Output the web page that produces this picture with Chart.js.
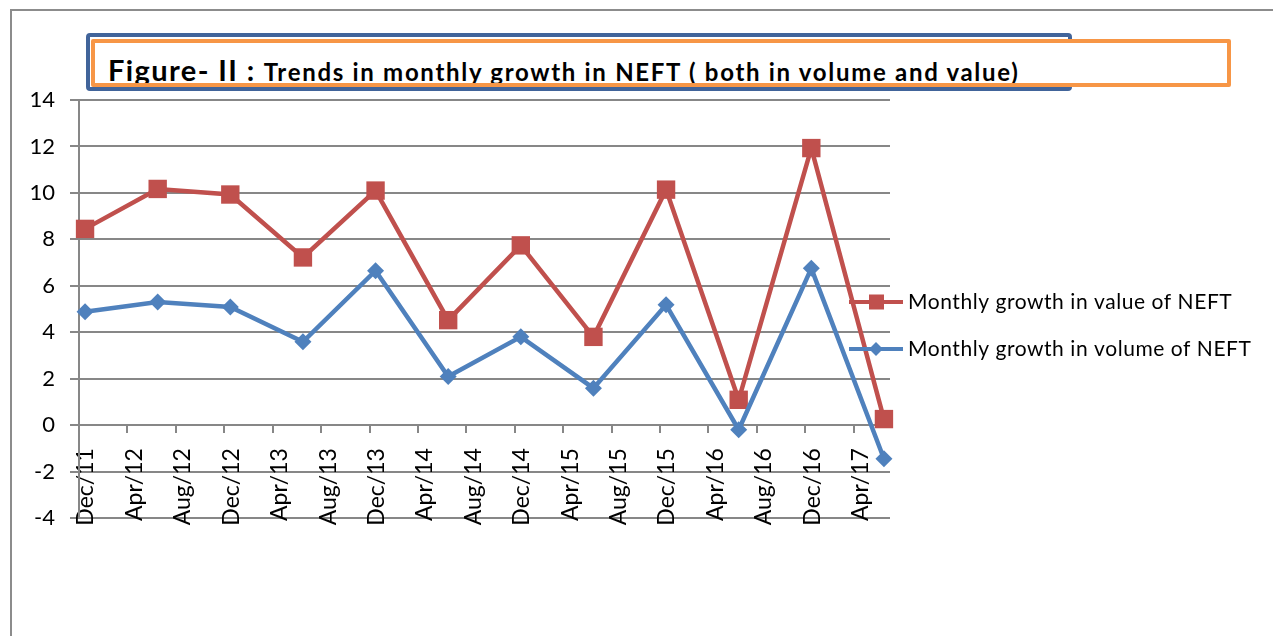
<!DOCTYPE html>
<html>
<head>
<meta charset="utf-8">
<script src="https://cdn.jsdelivr.net/npm/chart.js@4.4.1/dist/chart.umd.min.js"></script>
<style>
  body { margin: 0; background: #fff; }
  #wrap { position: relative; width: 1273px; height: 636px; overflow: hidden; font-family: Lato, sans-serif; }
  #frame { position: absolute; left: 10px; top: 9px; width: 1300px; height: 700px;
           border-top: 2.5px solid #8c8c8c; border-left: 2.5px solid #8c8c8c; }
  canvas { position: absolute; left: 0; top: 0; }
  #boxBlue { position: absolute; left: 86px; top: 33px; width: 978px; height: 50px;
             border: 4px solid #41649A; border-radius: 4px; }
  #boxOrange { position: absolute; left: 91px; top: 39px; width: 1132px; height: 40px;
               border: 4px solid #F79646; border-radius: 2px; background: #fff; overflow: hidden; }
  #title { position: absolute; left: 13px; top: 13px; white-space: nowrap; font-weight: bold;
           color: #000; line-height: 28px; }
  #title .big { font-size: 29px; letter-spacing: 1.4px; }
  #title .small { font-size: 24px; letter-spacing: 1.7px; margin-left: 8px; }
</style>
</head>
<body>
<div id="wrap">
  <div id="frame"></div>
  <canvas id="chart" width="1273" height="636"></canvas>
  <div id="boxBlue"></div>
  <div id="boxOrange">
    <div id="title"><span class="big">Figure- II :</span><span class="small">Trends in monthly growth in NEFT ( both in volume and value)</span></div>
  </div>
</div>
<script>
// observation periods (half-yearly) and the two growth series, in per cent
const periods = ['Dec/11', 'Jun/12', 'Dec/12', 'Jun/13', 'Dec/13', 'Jun/14',
                 'Dec/14', 'Jun/15', 'Dec/15', 'Jun/16', 'Dec/16', 'Jun/17'];
const valueGrowth = [8.45, 10.17, 9.93, 7.22, 10.1, 4.52, 7.74, 3.8, 10.14, 1.09, 11.93, 0.26];
const volumeGrowth = [4.88, 5.3, 5.09, 3.59, 6.65, 2.09, 3.8, 1.59, 5.18, -0.2, 6.75, -1.45];
const seriesNames = ['Monthly growth in value of NEFT', 'Monthly growth in volume of NEFT'];

// axis tick labels
const tickLabels = ['Dec/11', 'Apr/12', 'Aug/12', 'Dec/12', 'Apr/13', 'Aug/13', 'Dec/13', 'Apr/14',
                    'Aug/14', 'Dec/14', 'Apr/15', 'Aug/15', 'Dec/15', 'Apr/16', 'Aug/16', 'Dec/16', 'Apr/17'];
const yTicks = [-4, -2, 0, 2, 4, 6, 8, 10, 12, 14];

const monthNames = ['Jan', 'Feb', 'Mar', 'Apr', 'May', 'Jun', 'Jul', 'Aug', 'Sep', 'Oct', 'Nov', 'Dec'];

// months since Dec 2011
function monthIndex(label) {
    const parts = label.split('/');
    return (parseInt(parts[1], 10) - 11) * 12 + monthNames.indexOf(parts[0]) + 1 - 12;
}

// each point sits in the middle of its month slot
function toPoints(values) {
    return values.map((v, i) => ({ x: monthIndex(periods[i]) + 0.5, y: v }));
}

const RED = '#C0504D';
const BLUE = '#4F81BD';
const GRID = '#878787';

// legend drawn to the right, overlapping the plot like the original
const sideLegend = {
    id: 'sideLegend',
    afterDraw(chart) {
        const ctx = chart.ctx;
        const rows = [302, 349];
        ctx.save();
        chart.data.datasets.forEach((ds, i) => {
            const y = rows[i];
            ctx.strokeStyle = ds.borderColor;
            ctx.lineWidth = 4;
            ctx.beginPath();
            ctx.moveTo(849, y);
            ctx.lineTo(903, y);
            ctx.stroke();
            ctx.fillStyle = ds.borderColor;
            if (ds.pointStyle === 'rect') {
                ctx.fillRect(869, y - 7.5, 15, 15);
            } else {
                ctx.beginPath();
                ctx.moveTo(876, y - 7);
                ctx.lineTo(883, y);
                ctx.lineTo(876, y + 7);
                ctx.lineTo(869, y);
                ctx.closePath();
                ctx.fill();
            }
            ctx.fillStyle = '#000';
            ctx.font = '21px Lato';
            ctx.letterSpacing = '0.55px';
            ctx.textBaseline = 'middle';
            ctx.fillText(ds.label, 908, y);
        });
        ctx.restore();
    }
};

new Chart(document.getElementById('chart').getContext('2d'), {
    type: 'line',
    data: {
        datasets: [{
            label: seriesNames[0],
            data: toPoints(valueGrowth),
            borderColor: RED,
            backgroundColor: RED,
            borderWidth: 4.5,
            pointStyle: 'rect',
            pointRadius: 13,
            pointBorderWidth: 0,
            order: 2,
            clip: false
        }, {
            label: seriesNames[1],
            data: toPoints(volumeGrowth),
            borderColor: BLUE,
            backgroundColor: BLUE,
            borderWidth: 4.5,
            pointStyle: 'rectRot',
            pointRadius: 8.5,
            pointBorderWidth: 0,
            order: 1,
            clip: false
        }]
    },
    options: {
        responsive: false,
        animation: false,
        layout: { padding: { left: 0, top: 100, right: 383, bottom: 118 } },
        plugins: {
            legend: { display: false },
            tooltip: { enabled: false }
        },
        scales: {
            x: {
                type: 'linear',
                position: { y: 0 },
                min: monthIndex(tickLabels[0]),
                max: monthIndex(periods[periods.length - 1]) + 1,
                afterBuildTicks: function (scale) {
                    scale.ticks = tickLabels.map(l => ({ value: monthIndex(l) }));
                },
                afterFit: function (scale) { scale.height = 0; },
                ticks: {
                    autoSkip: false,
                    minRotation: 90,
                    maxRotation: 90,
                    padding: 16,
                    labelOffset: 7,
                    color: '#000',
                    font: { family: 'Lato', size: 23 },
                    callback: function (value, index) { return tickLabels[index]; }
                },
                grid: { drawOnChartArea: false, drawTicks: true, tickLength: 7, color: GRID, lineWidth: 2 },
                border: { display: true, color: GRID, width: 2 }
            },
            y: {
                min: yTicks[0],
                max: yTicks[yTicks.length - 1],
                afterBuildTicks: function (scale) {
                    scale.ticks = yTicks.map(v => ({ value: v }));
                },
                afterFit: function (scale) { scale.width = 79; },
                ticks: { padding: 15, color: '#000', font: { family: 'Lato', size: 22 } },
                grid: { color: GRID, lineWidth: 2, tickLength: 9 },
                border: { display: true, color: GRID, width: 2 }
            }
        }
    },
    plugins: [sideLegend]
});
</script>
</body>
</html>
